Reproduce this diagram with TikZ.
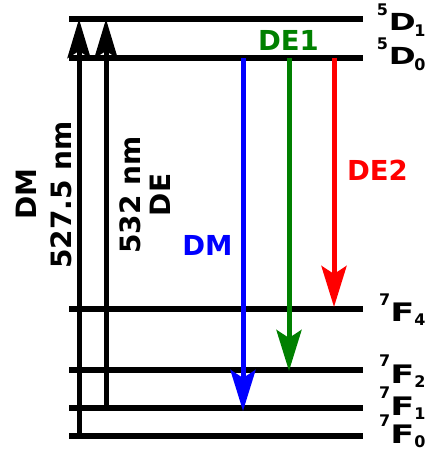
\documentclass[tikz,border=0pt]{standalone}
\usepackage{fontspec}
\usepackage{graphicx}
\setmainfont{DejaVu Sans}
\usetikzlibrary{arrows.meta}
\definecolor{dgreen}{RGB}{0,128,0}
\newcommand\levD[2]{\raisebox{15pt}{\fontsize{16}{16}\selectfont #1}\hspace{1pt}\scalebox{1.38}[1]{\fontsize{23.5}{24}\selectfont D}\hspace{-1.5pt}\raisebox{-6.5pt}{\fontsize{16}{16}\selectfont #2}}
\newcommand\levF[2]{\raisebox{16.5pt}{\fontsize{16}{16}\selectfont #1}\scalebox{1.38}[1]{\fontsize{25.5}{26}\selectfont F}\raisebox{-4pt}{\fontsize{16}{16}\selectfont #2}}
\begin{document}
\begin{tikzpicture}[x=1pt,y=-1pt,
  level/.style={line width=6.5pt},
  pump/.style={line width=5pt,-{Stealth[length=39pt,width=23pt,inset=7pt]}},
  emis/.style={line width=5pt,-{Stealth[length=41pt,width=25pt,inset=8pt]}},
  bigtxt/.style={font=\fontsize{28}{30}\selectfont\bfseries, inner sep=0pt},
  coltxt/.style={font=\fontsize{27.5}{30}\selectfont\bfseries, inner sep=0pt, anchor=base},
  lbl/.style={font=\bfseries, inner sep=0pt, anchor=base west},
]
\useasboundingbox (0,0) rectangle (427,458);
% energy levels
\foreach \n/\y in {D1/19, D0/58, F4/309, F2/370, F1/408, F0/436} {
  \coordinate (\n-l) at (69,\y);
  \coordinate (\n-r) at (363,\y);
  \draw[level] (\n-l) -- (\n-r);
}
% pump arrows
\coordinate (p1s) at (79,436);
\coordinate (p1e) at (79,19);
\coordinate (p2s) at (106,408);
\coordinate (p2e) at (106,19);
\draw[pump] (p1s) -- (p1e);
\draw[pump] (p2s) -- (p2e);
% emission arrows
\coordinate (bs) at (243,58);
\coordinate (be) at (243,411);
\coordinate (gs) at (289,58);
\coordinate (ge) at (289,371);
\coordinate (rs) at (334,58);
\coordinate (re) at (334,307);
\draw[emis, blue] (bs) -- (be);
\draw[emis, dgreen] (gs) -- (ge);
\draw[emis, red] (rs) -- (re);
% rotated labels
\node[bigtxt, rotate=90, anchor=base] (dm1) at (36.7,194) {DM};
\node[bigtxt, rotate=90, anchor=base] (nm1) at (71.7,195) {527.5 nm};
\node[bigtxt, rotate=90, anchor=base] (nm2) at (140,195) {532 nm};
\node[bigtxt, rotate=90, anchor=base] (de) at (170,195) {DE};
% coloured labels
\node[coltxt, blue] (dmb) at (207.5,255) {DM};
\node[coltxt, dgreen] (de1) at (288.5,50) {DE1};
\node[coltxt, red] (de2) at (377.5,180) {DE2};
% level labels
\node[lbl] (lD1) at (376.6,30) {\levD{5}{1}};
\node[lbl] (lD0) at (376.6,64) {\levD{5}{0}};
\node[lbl] (lF4) at (379,321.7) {\levF{7}{4}};
\node[lbl] (lF2) at (379,383) {\levF{7}{2}};
\node[lbl] (lF1) at (379,415) {\levF{7}{1}};
\node[lbl] (lF0) at (379,443) {\levF{7}{0}};
\end{tikzpicture}
\end{document}
